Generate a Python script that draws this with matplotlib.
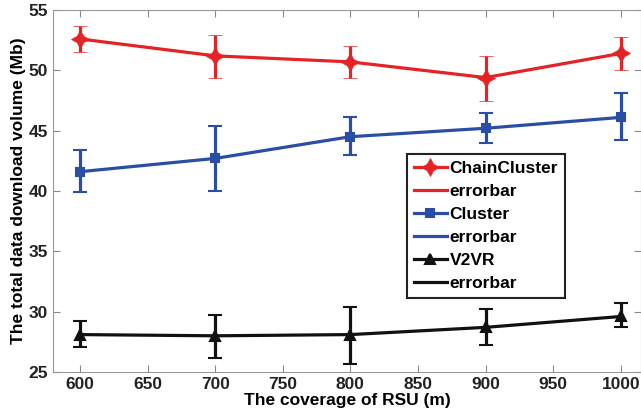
import matplotlib.pyplot as plt
from matplotlib.lines import Line2D
import numpy as np

plt.rcParams['font.family'] = ['Liberation Sans', 'DejaVu Sans']
plt.rcParams['font.weight'] = 'bold'

coverage = [600, 700, 800, 900, 1000]

chain_mean = [52.6, 51.2, 50.7, 49.4, 51.4]
chain_low = [51.5, 49.4, 49.4, 47.5, 50.0]
chain_high = [53.7, 52.9, 52.0, 51.2, 52.8]

cluster_mean = [41.6, 42.7, 44.5, 45.2, 46.1]
cluster_low = [39.9, 40.0, 43.0, 44.0, 44.2]
cluster_high = [43.4, 45.4, 46.1, 46.5, 48.1]

v2vr_mean = [28.1, 28.0, 28.1, 28.7, 29.6]
v2vr_low = [27.1, 26.2, 25.7, 27.2, 28.7]
v2vr_high = [29.2, 29.7, 30.4, 30.2, 30.7]

red = '#e52326'
blue = '#2a4ea6'
black = '#111111'

fig = plt.figure(figsize=(6.41, 4.17), dpi=100)
ax = fig.add_axes([53 / 641, 1 - 372 / 417, 1 - 53 / 641, (372 - 10) / 417])

# four-pointed star marker for the first series
star = (4, 1, 0)
series = [
    ('ChainCluster', chain_mean, chain_low, chain_high, red, star, 13, 0.5),
    ('Cluster', cluster_mean, cluster_low, cluster_high, blue, 's', 6, 1.5),
    ('V2VR', v2vr_mean, v2vr_low, v2vr_high, black, '^', 7, 1.5),
]

handles = []
labels = []
for name, mean, low, high, color, marker, ms, mew in series:
    mean = np.array(mean)
    yerr = np.array([mean - np.array(low), np.array(high) - mean])
    ax.errorbar(coverage, mean, yerr=yerr, color=color, lw=2.3, elinewidth=2.3,
                capsize=5, capthick=2.3, marker=marker, markersize=ms, mew=mew,
                markeredgecolor=color, markerfacecolor=color)
    handles.append(Line2D([], [], color=color, lw=2.3, marker=marker, markersize=ms, mew=mew,
                          markeredgecolor=color, markerfacecolor=color))
    labels.append(name)
    handles.append(Line2D([], [], color=color, lw=2.3))
    labels.append('errorbar')

ax.set_xlim(580, 1015)
ax.set_ylim(25, 55)
ax.set_xticks(range(600, 1001, 50))
ax.set_yticks(range(25, 56, 5))
ax.tick_params(direction='in', top=True, right=True, labelsize=12.5,
               colors='#888888', labelcolor='#222222', length=5)
for s in ax.spines.values():
    s.set_color('#999999')

ax.set_xlabel('The coverage of RSU (m)', fontsize=12.5, fontweight='bold', labelpad=1)
ax.set_ylabel('The total data download volume (Mb)', fontsize=12.5, fontweight='bold', labelpad=2)

leg = ax.legend(handles, labels, loc='upper left',
                bbox_to_anchor=(407 / 641, 1 - 154 / 417), bbox_transform=fig.transFigure,
                fontsize=12.5, fancybox=False, framealpha=1, edgecolor='#222222',
                borderaxespad=0, borderpad=0.4, handlelength=1.9, handletextpad=0.15,
                labelspacing=0.45)
leg.get_frame().set_linewidth(1.5)

fig.savefig('out.png', dpi=100)
